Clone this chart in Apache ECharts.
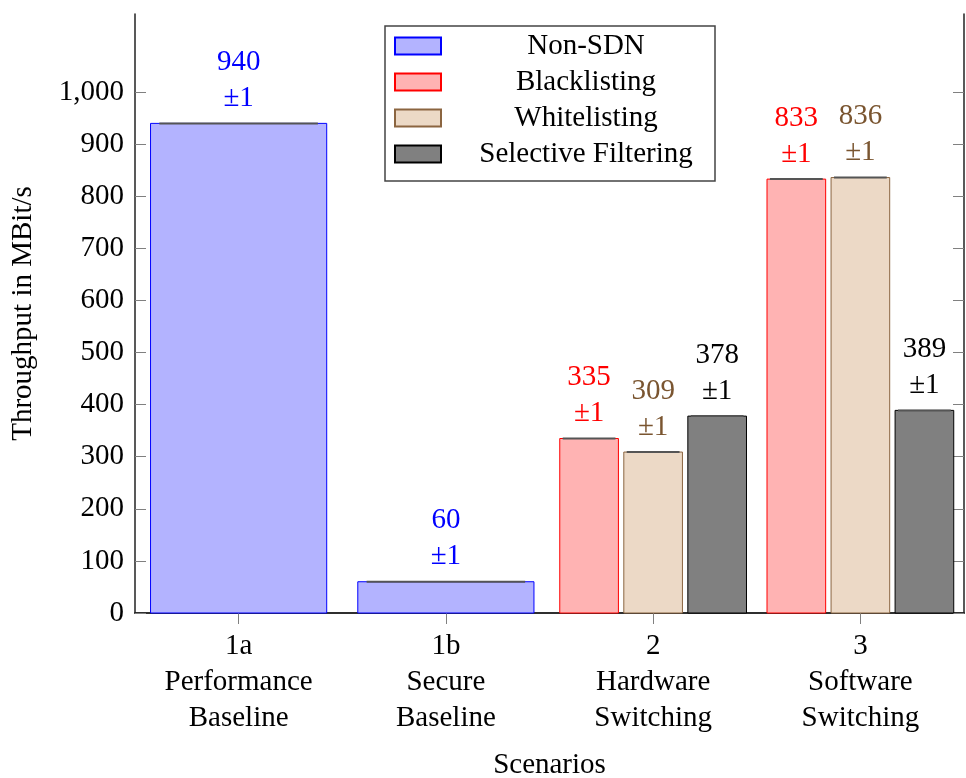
<!DOCTYPE html>
<html>
<head>
<meta charset="utf-8">
<title>Throughput per scenario</title>
<script src="https://cdn.jsdelivr.net/npm/echarts@6/dist/echarts.min.js"></script>
<style>
  html, body { margin: 0; padding: 0; background: #ffffff; }
  #chart { width: 966px; height: 778px; }
</style>
</head>
<body>
<div id="chart"></div>
<script>
// Scenario categories (axis labels, one line per row)
const categories = [
  '1a\nPerformance\nBaseline',
  '1b\nSecure\nBaseline',
  '2\nHardware\nSwitching',
  '3\nSoftware\nSwitching'
];

// Measured throughput (MBit/s) per scenario; null = not measured
const seriesNames = ['Non-SDN', 'Blacklisting', 'Whitelisting', 'Selective Filtering'];
const nonSdn       = [940, 60, null, null];
const blacklisting = [null, null, 335, 833];
const whitelisting = [null, null, 309, 836];
const selective    = [null, null, 378, 389];

// Error (±) for each measurement
const nonSdnErr       = [1, 1, null, null];
const blacklistingErr = [null, null, 1, 1];
const whitelistingErr = [null, null, 1, 1];
const selectiveErr    = [null, null, 1, 1];

// Y axis ticks
const yTicks = [0, 100, 200, 300, 400, 500, 600, 700, 800, 900, 1000];

const FONT = '"Liberation Serif", "DejaVu Serif", serif';

const seriesStyles = [
  { fill: '#b3b3ff', stroke: '#0000ff', label: '#0000ff' },
  { fill: '#ffb3b3', stroke: '#ff0000', label: '#ff0000' },
  { fill: '#ecd9c6', stroke: '#8b6540', label: '#7a5530' },
  { fill: '#808080', stroke: '#000000', label: '#000000' }
];

const valueLists = [nonSdn, blacklisting, whitelisting, selective];
const errorLists = [nonSdnErr, blacklistingErr, whitelistingErr, selectiveErr];

// Bars of a scenario share its band: one wide bar, or several narrow ones side by side
function makeRenderItem(seriesIdx) {
  const st = seriesStyles[seriesIdx];
  return function (params, api) {
    const ci = api.value(0);
    const v = api.value(1);
    const e = api.value(2);
    const present = [];
    valueLists.forEach(function (list, k) { if (list[ci] != null) present.push(k); });
    const n = present.length;
    const slot = present.indexOf(seriesIdx);
    const band = api.size([1, 0])[0];
    const center = api.coord([ci, 0])[0];
    const barW = n === 1 ? 0.85 * band : 0.283 * band;
    const step = 0.309 * band;
    const cx = center + (slot - (n - 1) / 2) * step;
    const top = api.coord([ci, v])[1];
    const base = api.coord([ci, 0])[1];
    const errHi = api.coord([ci, v + e])[1];
    const errLo = api.coord([ci, v - e])[1];
    const errW = Math.max(2, Math.abs(errLo - errHi));
    const inset = 0.05 * barW;
    return {
      type: 'group',
      children: [
        {
          type: 'rect',
          shape: { x: cx - barW / 2, y: top, width: barW, height: base - top },
          style: { fill: st.fill, stroke: st.stroke, lineWidth: 1 }
        },
        {
          type: 'line',
          shape: { x1: cx - barW / 2 + inset, y1: top, x2: cx + barW / 2 - inset, y2: top },
          style: { stroke: '#555555', lineWidth: errW }
        },
        {
          type: 'text',
          style: {
            text: v + '\n±' + e,
            x: cx,
            y: top - 7,
            align: 'center',
            verticalAlign: 'bottom',
            fill: st.label,
            fontFamily: FONT,
            fontSize: 29,
            lineHeight: 36
          }
        }
      ]
    };
  };
}

const series = seriesNames.map(function (name, k) {
  const data = [];
  valueLists[k].forEach(function (v, i) {
    if (v != null) data.push([i, v, errorLists[k][i]]);
  });
  return {
    name: name,
    type: 'custom',
    xAxisIndex: 0,
    yAxisIndex: 0,
    clip: false,
    encode: { x: 0, y: 1 },
    itemStyle: {
      color: seriesStyles[k].fill,
      borderColor: seriesStyles[k].stroke,
      borderWidth: 1
    },
    renderItem: makeRenderItem(k),
    data: data
  };
});

const frameLine = { show: true, lineStyle: { color: '#222222', width: 1.5 } };
const tickStyle = { color: '#808080', width: 1 };

const chart = echarts.init(document.getElementById('chart'), null, { renderer: 'canvas' });
chart.setOption({
  animation: false,
  backgroundColor: '#ffffff',
  textStyle: { fontFamily: FONT },
  grid: { left: 135, right: 2, top: 14, bottom: 165, containLabel: false, outerBoundsMode: 'none' },
  legend: {
    show: true,
    orient: 'vertical',
    left: 385,
    top: 26,
    padding: [5, 4, 12, 9],
    itemGap: 6,
    itemWidth: 46,
    itemHeight: 17,
    icon: 'rect',
    borderColor: '#444444',
    borderWidth: 1.5,
    backgroundColor: '#ffffff',
    selectedMode: false,
    data: seriesNames,
    formatter: function (name) { return '{g| }{t|' + name + '}'; },
    textStyle: {
      fontFamily: FONT,
      fontSize: 29,
      color: '#000000',
      lineHeight: 30,
      rich: {
        g: { width: 15, fontSize: 29, fontFamily: FONT },
        t: { width: 250, align: 'center', fontSize: 29, fontFamily: FONT, color: '#000000', lineHeight: 30 }
      }
    }
  },
  xAxis: [
    {
      type: 'category',
      data: categories,
      position: 'bottom',
      boundaryGap: true,
      name: 'Scenarios',
      nameLocation: 'middle',
      nameGap: 138,
      nameTextStyle: { fontFamily: FONT, fontSize: 29, color: '#000000' },
      axisLine: frameLine,
      axisTick: { show: true, alignWithLabel: true, inside: false, length: 11, lineStyle: tickStyle },
      axisLabel: {
        margin: 15,
        fontFamily: FONT,
        fontSize: 29,
        lineHeight: 36,
        color: '#000000',
        align: 'center'
      },
      splitLine: { show: false }
    },
    {
      type: 'category',
      data: categories,
      position: 'top',
      boundaryGap: true,
      axisLine: frameLine,
      axisTick: { show: true, alignWithLabel: true, inside: false, length: 11, lineStyle: tickStyle },
      axisLabel: { show: false },
      splitLine: { show: false }
    }
  ],
  yAxis: [
    {
      type: 'value',
      position: 'left',
      min: 0,
      max: 1150,
      interval: 100,
      name: 'Throughput in MBit/s',
      nameLocation: 'middle',
      nameGap: 97,
      nameRotate: 90,
      nameTextStyle: { fontFamily: FONT, fontSize: 29, color: '#000000' },
      axisLine: frameLine,
      axisTick: { show: true, inside: true, length: 11, lineStyle: tickStyle, customValues: yTicks },
      axisLabel: {
        margin: 11,
        fontFamily: FONT,
        fontSize: 29,
        color: '#000000',
        customValues: yTicks,
        formatter: function (v) { return v.toLocaleString('en-US'); }
      },
      splitLine: { show: false }
    },
    {
      type: 'value',
      position: 'right',
      min: 0,
      max: 1150,
      interval: 100,
      axisLine: frameLine,
      axisTick: { show: true, inside: true, length: 11, lineStyle: tickStyle, customValues: yTicks },
      axisLabel: { show: false },
      splitLine: { show: false }
    }
  ],
  series: series
});
</script>
</body>
</html>
